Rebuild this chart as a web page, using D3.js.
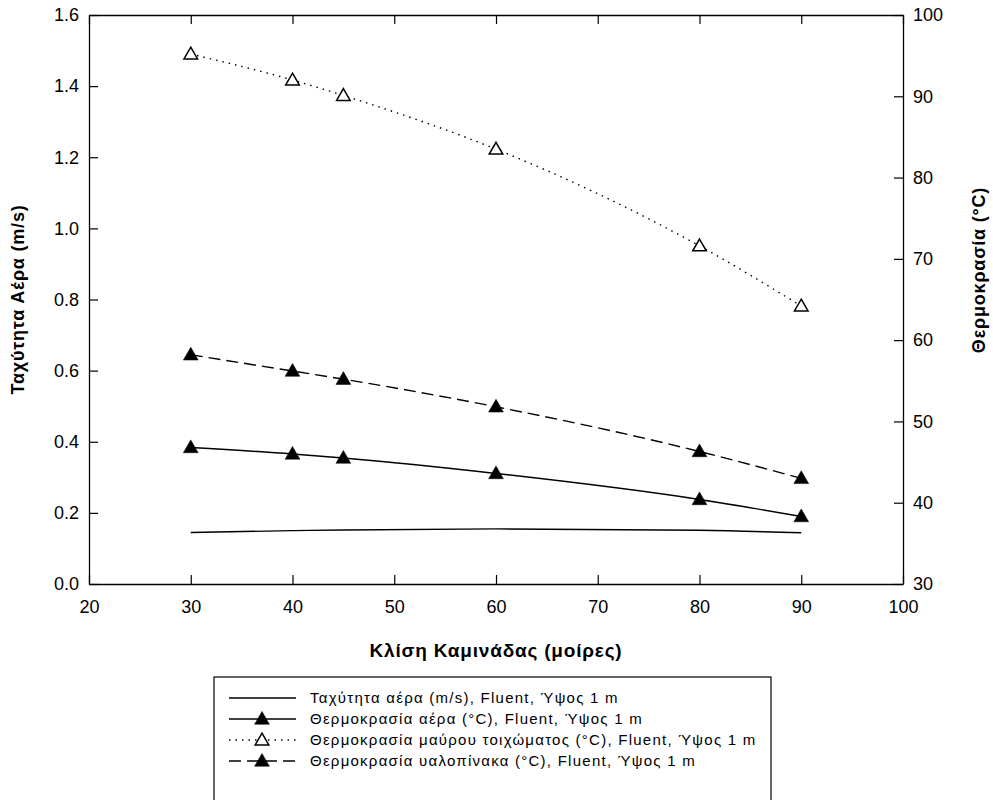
<!DOCTYPE html>
<html>
<head>
<meta charset="utf-8">
<script src="https://cdn.jsdelivr.net/npm/d3@7"></script>
<style>
  html, body { margin: 0; padding: 0; background: #fff; overflow: hidden; }
  svg { display: block; }
  text { font-family: "Liberation Sans", Arial, sans-serif; }
</style>
</head>
<body>
<div id="vis"></div>
<script>
// frame and plot box
const FRAME_WIDTH = 993;
const FRAME_HEIGHT = 800;
const MARGINS = {left: 89, right: 90, top: 15, bottom: 216};

// data
const ANGLES = [30, 40, 45, 60, 80, 90];
const AIR_SPEED = [0.145, 0.150, 0.152, 0.155, 0.151, 0.144];
const AIR_TEMP = [46.8, 46.0, 45.5, 43.6, 40.4, 38.3];
const WALL_TEMP = [95.2, 92.0, 90.1, 83.5, 71.6, 64.2];
const GLASS_TEMP = [58.2, 56.2, 55.2, 51.8, 46.3, 43.0];

const X_TICKS = [20, 30, 40, 50, 60, 70, 80, 90, 100];
const LEFT_TICKS = [0.0, 0.2, 0.4, 0.6, 0.8, 1.0, 1.2, 1.4, 1.6];
const RIGHT_TICKS = [30, 40, 50, 60, 70, 80, 90, 100];

const LEGEND_LABELS = [
  "Ταχύτητα αέρα (m/s), Fluent, Ύψος 1 m",
  "Θερμοκρασία αέρα (°C), Fluent, Ύψος 1 m",
  "Θερμοκρασία μαύρου τοιχώματος (°C), Fluent, Ύψος 1 m",
  "Θερμοκρασία υαλοπίνακα (°C), Fluent, Ύψος 1 m"
];

const VIS_WIDTH = FRAME_WIDTH - MARGINS.left - MARGINS.right;
const VIS_HEIGHT = FRAME_HEIGHT - MARGINS.top - MARGINS.bottom;

const svg = d3.select("#vis")
  .append("svg")
    .attr("width", FRAME_WIDTH)
    .attr("height", FRAME_HEIGHT);

const plot = svg.append("g")
  .attr("transform", "translate(" + MARGINS.left + "," + MARGINS.top + ")");

// scales
const X = d3.scaleLinear().domain([20, 100]).range([0, VIS_WIDTH]);
const YL = d3.scaleLinear().domain([0, 1.6]).range([VIS_HEIGHT, 0]);
const YR = d3.scaleLinear().domain([30, 100]).range([VIS_HEIGHT, 0]);

// axes, ticks pointing inward
function styleAxis(g) {
  g.select(".domain").attr("stroke", "#000").attr("stroke-width", 1.3);
  g.selectAll(".tick line").attr("stroke", "#000").attr("stroke-width", 1.2);
  g.selectAll(".tick text").attr("font-size", "18px").attr("fill", "#000");
}

plot.append("g")
  .attr("transform", "translate(0," + VIS_HEIGHT + ")")
  .call(d3.axisBottom(X).tickValues(X_TICKS).tickFormat(d3.format("d"))
    .tickSizeInner(-9).tickSizeOuter(0).tickPadding(16))
  .call(styleAxis);

plot.append("g")
  .call(d3.axisTop(X).tickValues(X_TICKS).tickSizeInner(-9).tickSizeOuter(0))
  .call(styleAxis)
  .call(g => g.selectAll(".tick text").remove());

plot.append("g")
  .call(d3.axisLeft(YL).tickValues(LEFT_TICKS).tickFormat(d3.format(".1f"))
    .tickSizeInner(-9).tickSizeOuter(0).tickPadding(10))
  .call(styleAxis);

plot.append("g")
  .attr("transform", "translate(" + VIS_WIDTH + ",0)")
  .call(d3.axisRight(YR).tickValues(RIGHT_TICKS).tickFormat(d3.format("d"))
    .tickSizeInner(-9).tickSizeOuter(0).tickPadding(10))
  .call(styleAxis);

// axis titles
svg.append("text")
  .attr("x", MARGINS.left + VIS_WIDTH / 2)
  .attr("y", 657)
  .attr("text-anchor", "middle")
  .attr("font-size", "19px")
  .attr("font-weight", "bold")
  .attr("letter-spacing", "0.8px")
  .text("Κλίση Καμινάδας (μοίρες)");

svg.append("text")
  .attr("transform", "translate(24," + (MARGINS.top + VIS_HEIGHT / 2) + ") rotate(-90)")
  .attr("text-anchor", "middle")
  .attr("font-size", "18px")
  .attr("font-weight", "bold")
  .attr("letter-spacing", "0.8px")
  .text("Ταχύτητα Αέρα (m/s)");

svg.append("text")
  .attr("transform", "translate(985,270) rotate(-90)")
  .attr("text-anchor", "middle")
  .attr("font-size", "18px")
  .attr("font-weight", "bold")
  .attr("letter-spacing", "0.8px")
  .text("Θερμοκρασία (°C)");

// series
const triangle = d3.symbol().type(d3.symbolTriangle);

const SERIES = [
  {values: AIR_SPEED, y: YL, dash: null, marker: null},
  {values: AIR_TEMP, y: YR, dash: null, marker: "filled"},
  {values: WALL_TEMP, y: YR, dash: "1.5,5", marker: "open"},
  {values: GLASS_TEMP, y: YR, dash: "12,6", marker: "filled"}
];

SERIES.forEach((s) => {
  const pts = ANGLES.map((a, i) => ({x: a, v: s.values[i]}));
  const line = d3.line()
    .x(d => X(d.x))
    .y(d => s.y(d.v))
    .curve(d3.curveMonotoneX);

  plot.append("path")
    .datum(pts)
    .attr("d", line)
    .attr("fill", "none")
    .attr("stroke", "#000")
    .attr("stroke-width", 1.4)
    .attr("stroke-dasharray", s.dash);

  if (s.marker) {
    plot.selectAll(null)
      .data(pts)
      .enter()
      .append("path")
        .attr("d", triangle.size(s.marker === "filled" ? 95 : 80))
        .attr("transform", d => "translate(" + X(d.x) + "," + (s.y(d.v) + 1) + ")")
        .attr("fill", s.marker === "filled" ? "#000" : "#fff")
        .attr("stroke", "#000")
        .attr("stroke-width", s.marker === "filled" ? 0.5 : 1.5);
  }
});

// legend
const legend = svg.append("g").attr("transform", "translate(214,677)");

legend.append("rect")
  .attr("width", 557)
  .attr("height", 140)
  .attr("fill", "#fff")
  .attr("stroke", "#000")
  .attr("stroke-width", 1.2);

SERIES.forEach((s, i) => {
  const cy = 21 + i * 21;
  legend.append("line")
    .attr("x1", 15).attr("x2", 82)
    .attr("y1", cy).attr("y2", cy)
    .attr("stroke", "#000")
    .attr("stroke-width", 1.4)
    .attr("stroke-dasharray", s.dash);

  if (s.marker) {
    legend.append("path")
      .attr("d", triangle.size(s.marker === "filled" ? 95 : 80))
      .attr("transform", "translate(48," + (cy + 1) + ")")
      .attr("fill", s.marker === "filled" ? "#000" : "#fff")
      .attr("stroke", "#000")
      .attr("stroke-width", s.marker === "filled" ? 0.5 : 1.5);
  }

  legend.append("text")
    .attr("x", 96)
    .attr("y", cy + 5)
    .attr("font-size", "15px")
    .attr("letter-spacing", "1.25px")
    .text(LEGEND_LABELS[i]);
});
</script>
</body>
</html>
